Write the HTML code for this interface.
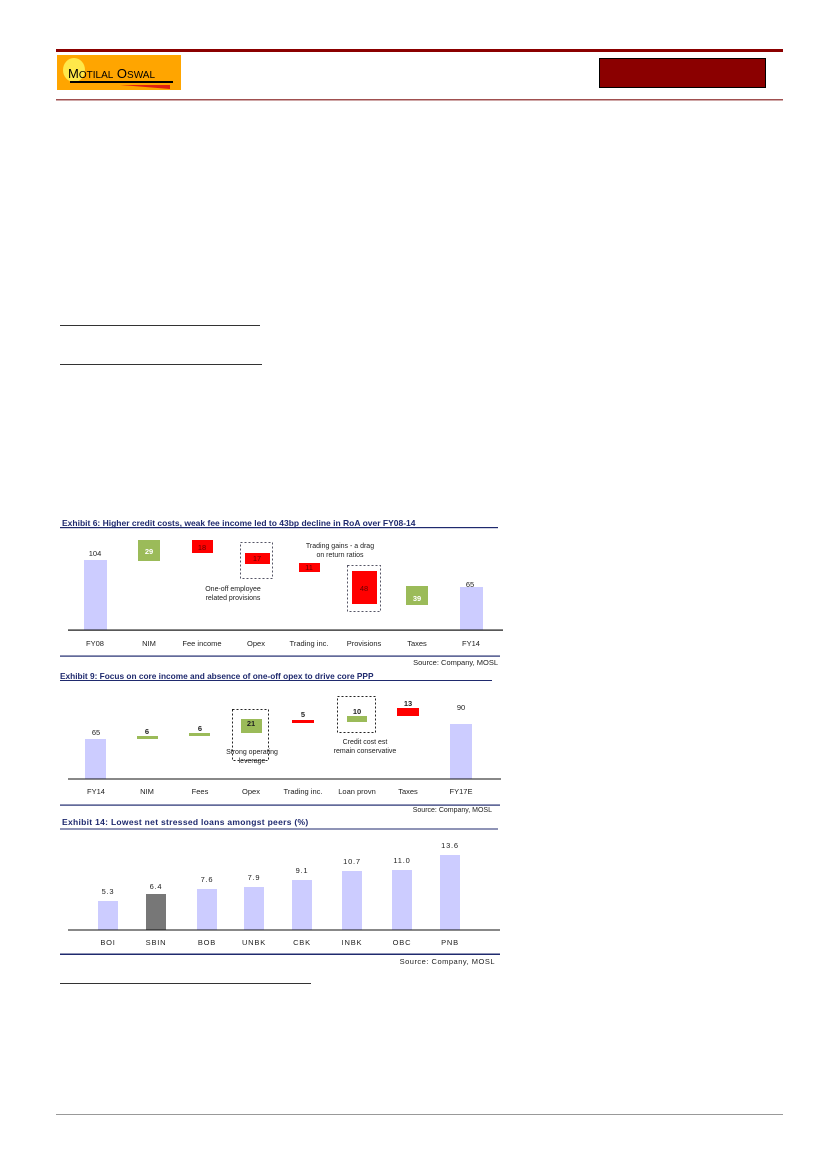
<!DOCTYPE html>
<html><head><meta charset="utf-8"><style>
html,body{margin:0;padding:0;background:#fff;width:827px;height:1170px;overflow:hidden}
svg{display:block}
text{font-family:"Liberation Sans",sans-serif}
</style></head><body>
<svg width="827" height="1170" viewBox="0 0 827 1170" xmlns="http://www.w3.org/2000/svg">
<!-- header -->
<rect x="56" y="49" width="727" height="3" fill="#8B0000"/>
<rect x="57" y="55" width="124" height="35" fill="#FFA500"/>
<ellipse cx="74" cy="70" rx="11" ry="12" fill="#FFE84A"/>
<text x="68" y="78" font-family="Liberation Serif" font-size="13" fill="#000">M<tspan font-size="10">OTILAL</tspan> O<tspan font-size="10">SWAL</tspan></text>
<rect x="70" y="81" width="103" height="2" fill="#000"/>
<polygon points="120,85 170,85 170,89" fill="#E02010"/>
<rect x="599.5" y="58.5" width="166" height="29" fill="#8B0000" stroke="#000"/>
<rect x="56" y="99" width="727" height="1.5" fill="#A05050"/>
<!-- link lines -->
<rect x="60" y="325" width="200" height="1" fill="#333"/>
<rect x="60" y="364" width="202" height="1" fill="#333"/>
<rect x="60" y="983" width="251" height="1" fill="#333"/>
<rect x="56" y="1114" width="727" height="1" fill="#999"/>

<!-- Exhibit 6 -->
<text x="62" y="526" font-size="8.5" font-weight="bold" fill="#1F2A6E">Exhibit 6: Higher credit costs, weak fee income led to 43bp decline in RoA over FY08-14</text>
<rect x="60" y="527" width="438" height="1.2" fill="#1F2A6E"/>
<g font-size="7.5" text-anchor="middle" fill="#222">
<rect x="84" y="560" width="23" height="70" fill="#CCCCFF"/><text x="95" y="556">104</text>
<rect x="138" y="540" width="22" height="21" fill="#9BBB59"/><text x="149" y="554" fill="#fff" font-weight="bold">29</text>
<rect x="192" y="540" width="21" height="13" fill="#FF0000"/><text x="202" y="550" fill="#600">18</text>
<rect x="240.5" y="542.5" width="32" height="36" fill="none" stroke="#556" stroke-dasharray="2,2"/>
<rect x="245" y="553" width="25" height="11" fill="#FF0000"/><text x="257" y="561" fill="#600">17</text>
<rect x="299" y="563" width="21" height="9" fill="#FF0000"/><text x="309" y="570" fill="#600">11</text>
<rect x="347.5" y="565.5" width="33" height="46" fill="none" stroke="#556" stroke-dasharray="2,2"/>
<rect x="352" y="571" width="25" height="33" fill="#FF0000"/><text x="364" y="591" fill="#600">48</text>
<rect x="406" y="586" width="22" height="19" fill="#9BBB59"/><text x="417" y="601" fill="#fff" font-weight="bold">39</text>
<rect x="460" y="587" width="23" height="43" fill="#CCCCFF"/><text x="470" y="587">65</text>
<text x="340" y="548" font-size="7">Trading gains - a drag</text>
<text x="340" y="557" font-size="7">on return ratios</text>
<text x="233" y="591" font-size="7">One-off employee</text>
<text x="233" y="600" font-size="7">related provisions</text>
<rect x="68" y="629.5" width="435" height="1.2" fill="#111"/>
<text x="95" y="646">FY08</text><text x="149" y="646">NIM</text><text x="202" y="646">Fee income</text><text x="256" y="646">Opex</text><text x="309" y="646">Trading inc.</text><text x="364" y="646">Provisions</text><text x="417" y="646">Taxes</text><text x="471" y="646">FY14</text>
</g>
<rect x="60" y="655.5" width="440" height="1.2" fill="#1F2A6E"/>
<text x="498" y="665" font-size="7.5" text-anchor="end" fill="#222">Source: Company, MOSL</text>

<!-- Exhibit 9 -->
<text x="60" y="679" font-size="8.3" font-weight="bold" fill="#1F2A6E">Exhibit 9: Focus on core income and absence of one-off opex to drive core PPP</text>
<rect x="60" y="680" width="432" height="1" fill="#1F2A6E"/>
<g font-size="7.5" text-anchor="middle" fill="#222">
<rect x="85" y="739" width="21" height="40" fill="#CCCCFF"/><text x="96" y="735">65</text>
<rect x="137" y="736" width="21" height="3" fill="#9BBB59"/><text x="147" y="734" font-weight="bold">6</text>
<rect x="189" y="733" width="21" height="3" fill="#9BBB59"/><text x="200" y="731" font-weight="bold">6</text>
<rect x="232.5" y="709.5" width="36" height="51" fill="none" stroke="#222" stroke-dasharray="2,2"/>
<rect x="241" y="719" width="21" height="14" fill="#9BBB59"/><text x="251" y="726" font-weight="bold">21</text>
<rect x="292" y="720" width="22" height="3" fill="#FF0000"/><text x="303" y="717" font-weight="bold">5</text>
<rect x="337.5" y="696.5" width="38" height="36" fill="none" stroke="#222" stroke-dasharray="2,2"/>
<rect x="347" y="716" width="20" height="6" fill="#9BBB59"/><text x="357" y="714" font-weight="bold">10</text>
<rect x="397" y="708" width="22" height="8" fill="#FF0000"/><text x="408" y="706" font-weight="bold">13</text>
<rect x="450" y="724" width="22" height="55" fill="#CCCCFF"/><text x="461" y="710">90</text>
<text x="252" y="754" font-size="7">Strong operating</text>
<text x="252" y="763" font-size="7">leverage</text>
<text x="365" y="744" font-size="7">Credit cost est</text>
<text x="365" y="753" font-size="7">remain conservative</text>
<rect x="68" y="778.5" width="433" height="1" fill="#111"/>
<text x="96" y="794">FY14</text><text x="147" y="794">NIM</text><text x="200" y="794">Fees</text><text x="251" y="794">Opex</text><text x="303" y="794">Trading inc.</text><text x="357" y="794">Loan provn</text><text x="408" y="794">Taxes</text><text x="461" y="794">FY17E</text>
</g>
<rect x="60" y="804.5" width="440" height="1.2" fill="#1F2A6E"/>
<text x="492" y="812" font-size="7" text-anchor="end" fill="#222">Source: Company, MOSL</text>

<!-- Exhibit 14 -->
<text x="62" y="825" font-size="8.5" font-weight="bold" fill="#1F2A6E" letter-spacing="0.3">Exhibit 14: Lowest net stressed loans amongst peers (%)</text>
<rect x="60" y="828.5" width="438" height="1" fill="#1F2A6E"/>
<g font-size="7.5" text-anchor="middle" fill="#222" letter-spacing="0.8">
<rect x="98" y="901" width="20" height="29" fill="#CCCCFF"/><text x="108" y="894">5.3</text>
<rect x="146" y="894" width="20" height="36" fill="#777"/><text x="156" y="889">6.4</text>
<rect x="197" y="889" width="20" height="41" fill="#CCCCFF"/><text x="207" y="882">7.6</text>
<rect x="244" y="887" width="20" height="43" fill="#CCCCFF"/><text x="254" y="880">7.9</text>
<rect x="292" y="880" width="20" height="50" fill="#CCCCFF"/><text x="302" y="873">9.1</text>
<rect x="342" y="871" width="20" height="59" fill="#CCCCFF"/><text x="352" y="864">10.7</text>
<rect x="392" y="870" width="20" height="60" fill="#CCCCFF"/><text x="402" y="863">11.0</text>
<rect x="440" y="855" width="20" height="75" fill="#CCCCFF"/><text x="450" y="848">13.6</text>
<rect x="68" y="929.5" width="432" height="1" fill="#111"/>
<text x="108" y="945">BOI</text><text x="156" y="945">SBIN</text><text x="207" y="945">BOB</text><text x="254" y="945">UNBK</text><text x="302" y="945">CBK</text><text x="352" y="945">INBK</text><text x="402" y="945">OBC</text><text x="450" y="945">PNB</text>
</g>
<rect x="60" y="953.5" width="440" height="1.5" fill="#1F2A6E"/>
<text x="495" y="964" font-size="7.5" text-anchor="end" fill="#222" letter-spacing="0.5">Source: Company, MOSL</text>
</svg>
</body></html>
